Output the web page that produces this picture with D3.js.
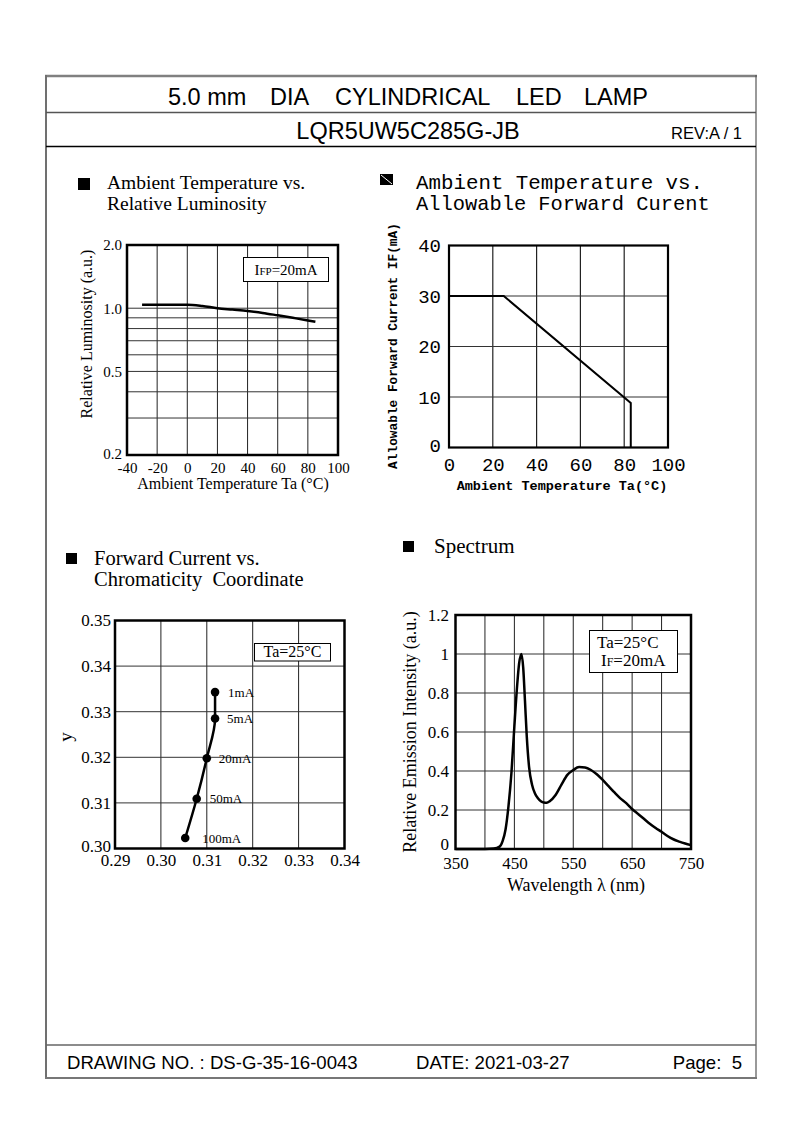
<!DOCTYPE html>
<html><head><meta charset="utf-8">
<script src="https://cdn.jsdelivr.net/npm/d3@7/dist/d3.min.js"></script>
<style>html,body{margin:0;padding:0;background:#fff;}svg{display:block;}</style>
</head><body>
<script>
// ---------- DATA ----------
const headerTitleWords = ["5.0 mm","DIA","CYLINDRICAL","LED","LAMP"];
const partNumber = "LQR5UW5C285G-JB";
const revision = "REV:A / 1";
const footerTexts = ["DRAWING NO. : DS-G-35-16-0043","DATE: 2021-03-27","Page:  5"];

// Chart 1: Ambient temperature vs relative luminosity
const lumTemp = [-30,-20,-10,0,10,20,30,40,50,60,70,80,85];
const lumValue = [1.04,1.04,1.04,1.04,1.025,1.0,0.985,0.97,0.95,0.925,0.9,0.875,0.862];
const lumXTicks = [-40,-20,0,20,40,60,80,100];
const lumYTicks = [0.2,0.5,1.0,2.0];
const lumYGrid = [0.3,0.4,0.5,0.6,0.7,0.8,0.9,1.0];

// Chart 2: Ambient temperature vs allowable forward current
const derTemp = [0,25,83,83];
const derCurrent = [30,30,8.8,0];
const derXTicks = [0,20,40,60,80,100];
const derYTicks = [0,10,20,30,40];

// Chart 3: forward current vs chromaticity coordinate
const chromLabels = ["1mA","5mA","20mA","50mA","100mA"];
const chromX = [0.3118,0.3118,0.3100,0.3078,0.3053];
const chromY = [0.3343,0.3285,0.3198,0.3109,0.3023];
const chromTicks = [0.29,0.30,0.31,0.32,0.33,0.34];
const chromYTicks = [0.30,0.31,0.32,0.33,0.34,0.35];

// Chart 4: spectrum
const specWl = [350,400,415,425,430,435,440,445,450,455,458,462,465,468,471,475,480,485,490,495,500,505,510,520,530,540,550,560,570,580,590,600,610,620,630,640,650,660,670,680,690,700,710,720,730,740,750];
const specI  = [0,0,0.002,0.012,0.04,0.1,0.22,0.39,0.63,0.85,0.95,1.0,0.93,0.76,0.58,0.42,0.33,0.285,0.26,0.245,0.238,0.237,0.245,0.277,0.33,0.38,0.405,0.42,0.418,0.405,0.383,0.354,0.322,0.29,0.26,0.235,0.205,0.18,0.155,0.13,0.108,0.088,0.067,0.05,0.038,0.028,0.02];
const specXTicks = [350,450,550,650,750];
const specXGrid = [400,450,500,550,600,650,700];
const specYTicks = [0,0.2,0.4,0.6,0.8,1.0,1.2];

// ---------- DRAW ----------
const W=794,H=1123;
const SERIF='"Liberation Serif","Times New Roman",serif';
const SANS='"Liberation Sans",Arial,sans-serif';
const MONO='"Liberation Mono","Courier New",monospace';
const svg=d3.select("body").append("svg").attr("width",W).attr("height",H);
svg.append("rect").attr("width",W).attr("height",H).attr("fill","#fff");

// page frame
const fr=svg.append("g");
fr.append("line").attr("x1",45).attr("x2",757).attr("y1",76).attr("y2",76).attr("stroke","#808080").attr("stroke-width",2.5);
fr.append("line").attr("x1",46).attr("x2",46).attr("y1",75).attr("y2",1079).attr("stroke","#707070").attr("stroke-width",2);
fr.append("line").attr("x1",756).attr("x2",756).attr("y1",75).attr("y2",1079).attr("stroke","#555").attr("stroke-width",1.2);
fr.append("line").attr("x1",46).attr("x2",756).attr("y1",112.5).attr("y2",112.5).attr("stroke","#555").attr("stroke-width",1.5);
fr.append("line").attr("x1",46).attr("x2",756).attr("y1",146.5).attr("y2",146.5).attr("stroke","#000").attr("stroke-width",1.5);
fr.append("line").attr("x1",46).attr("x2",756).attr("y1",1045).attr("y2",1045).attr("stroke","#666").attr("stroke-width",1.5);
fr.append("line").attr("x1",45).attr("x2",757).attr("y1",1078).attr("y2",1078).attr("stroke","#777").attr("stroke-width",1.8);

// header texts
const titleX=[168,270,335,516,584];
svg.append("g").selectAll("text").data(headerTitleWords).join("text")
  .attr("x",(d,i)=>titleX[i]).attr("y",105).attr("font-family",SANS).attr("font-size",23.5).text(d=>d);
svg.append("text").attr("x",408).attr("y",139).attr("text-anchor","middle").attr("font-family",SANS).attr("font-size",23.5).text(partNumber);
svg.append("text").attr("x",742).attr("y",139).attr("text-anchor","end").attr("font-family",SANS).attr("font-size",16.5).text(revision);
// footer
svg.append("text").attr("x",67).attr("y",1069).attr("font-family",SANS).attr("font-size",18.6).text(footerTexts[0]);
svg.append("text").attr("x",416).attr("y",1069).attr("font-family",SANS).attr("font-size",18.6).text(footerTexts[1]);
svg.append("text").attr("x",742).attr("y",1069).attr("text-anchor","end").attr("font-family",SANS).attr("font-size",18.6).attr("xml:space","preserve").style("white-space","pre").text(footerTexts[2]);

function bullet(x,y,s){svg.append("rect").attr("x",x).attr("y",y).attr("width",s).attr("height",s).attr("fill","#000");}
function styleAxis(g,font,size,weight){
  g.select(".domain").remove();
  g.selectAll(".tick line").remove();
  g.selectAll("text").attr("font-family",font).attr("font-size",size).attr("fill","#000").attr("font-weight",weight||"normal");
}

// ===== Chart 1 =====
{
  bullet(78,178,12);
  svg.append("text").attr("x",107).attr("y",189).attr("font-family",SERIF).attr("font-size",19.5).text("Ambient Temperature vs.");
  svg.append("text").attr("x",107).attr("y",210).attr("font-family",SERIF).attr("font-size",19.5).text("Relative Luminosity");
  const x=d3.scaleLinear().domain([-40,100]).range([127,338]);
  const y=d3.scaleLog().domain([0.2,2]).range([455,245]);
  const g=svg.append("g");
  g.selectAll(".vg").data(lumXTicks.slice(1,-1)).join("line").attr("x1",d=>x(d)).attr("x2",d=>x(d)).attr("y1",245).attr("y2",455).attr("stroke","#222").attr("stroke-width",1);
  g.selectAll(".hg").data(lumYGrid).join("line").attr("y1",d=>y(d)).attr("y2",d=>y(d)).attr("x1",127).attr("x2",338).attr("stroke","#333").attr("stroke-width",1);
  g.append("rect").attr("x",127).attr("y",245).attr("width",211).attr("height",210).attr("fill","none").attr("stroke","#000").attr("stroke-width",2.5);
  g.append("path").datum(lumTemp.map((t,i)=>[t,lumValue[i]])).attr("d",d3.line().x(d=>x(d[0])).y(d=>y(d[1])).curve(d3.curveMonotoneX)).attr("fill","none").attr("stroke","#000").attr("stroke-width",2.5);
  // box
  g.append("rect").attr("x",243.5).attr("y",257.5).attr("width",85).attr("height",24).attr("fill","#fff").attr("stroke","#000").attr("stroke-width",1);
  const t=g.append("text").attr("x",286).attr("y",275).attr("text-anchor","middle").attr("font-family",SERIF).attr("font-size",15);
  t.append("tspan").text("I"); t.append("tspan").attr("font-size",11).text("FP"); t.append("tspan").text("=20mA");
  const ay=svg.append("g").attr("transform","translate(124,0)").call(d3.axisLeft(y).tickValues(lumYTicks).tickFormat(d3.format(".1f")).tickSize(0).tickPadding(2));
  styleAxis(ay,SERIF,15);
  ay.selectAll(".tick").filter(d=>d===0.2).select("text").attr("dy","0.2em");
  const ax=svg.append("g").attr("transform","translate(0,460)").call(d3.axisBottom(x).tickValues(lumXTicks).tickSize(0).tickPadding(2).tickFormat(d=>d));
  styleAxis(ax,SERIF,15);
  svg.append("text").attr("x",233).attr("y",489).attr("text-anchor","middle").attr("font-family",SERIF).attr("font-size",16).text("Ambient Temperature Ta (°C)");
  svg.append("text").attr("transform","translate(92,334) rotate(-90)").attr("text-anchor","middle").attr("font-family",SERIF).attr("font-size",16).text("Relative Luminosity (a.u.)");
}

// ===== Chart 2 =====
{
  svg.append("rect").attr("x",380).attr("y",174).attr("width",13).attr("height",11).attr("fill","#000");
  svg.append("line").attr("x1",381).attr("y1",175).attr("x2",392).attr("y2",184).attr("stroke","#fff").attr("stroke-width",1);
  svg.append("text").attr("x",416).attr("y",189).attr("font-family",MONO).attr("font-size",20.8).text("Ambient Temperature vs.");
  svg.append("text").attr("x",416).attr("y",210).attr("font-family",MONO).attr("font-size",20.4).text("Allowable Forward Curent");
  const x=d3.scaleLinear().domain([0,100]).range([449,668]);
  const y=d3.scaleLinear().domain([0,40]).range([447.5,245.5]);
  const g=svg.append("g");
  g.selectAll(".vg").data(derXTicks.slice(1,-1)).join("line").attr("x1",d=>x(d)).attr("x2",d=>x(d)).attr("y1",245.5).attr("y2",447.5).attr("stroke","#222").attr("stroke-width",1.2);
  g.selectAll(".hg").data(derYTicks.slice(1,-1)).join("line").attr("y1",d=>y(d)).attr("y2",d=>y(d)).attr("x1",449).attr("x2",668).attr("stroke","#333").attr("stroke-width",1.2);
  g.append("rect").attr("x",449).attr("y",245.5).attr("width",219).attr("height",202).attr("fill","none").attr("stroke","#000").attr("stroke-width",2.2);
  g.append("path").datum(derTemp.map((t,i)=>[t,derCurrent[i]])).attr("d",d3.line().x(d=>x(d[0])).y(d=>y(d[1]))).attr("fill","none").attr("stroke","#000").attr("stroke-width",2);
  const ay=svg.append("g").attr("transform","translate(441,0)").call(d3.axisLeft(y).tickValues(derYTicks).tickSize(0).tickPadding(0));
  styleAxis(ay,MONO,19);
  ay.selectAll(".tick").filter(d=>d===0).select("text").attr("dy","0.2em");
  const ax=svg.append("g").attr("transform","translate(0,455)").call(d3.axisBottom(x).tickValues(derXTicks).tickSize(0).tickPadding(2));
  styleAxis(ax,MONO,19);
  svg.append("text").attr("x",562).attr("y",490).attr("text-anchor","middle").attr("font-family",MONO).attr("font-weight","bold").attr("font-size",13.5).text("Ambient Temperature Ta(°C)");
  svg.append("text").attr("transform","translate(397,346) rotate(-90)").attr("text-anchor","middle").attr("font-family",MONO).attr("font-weight","bold").attr("font-size",12.8).text("Allowable Forward Current IF(mA)");
}

// ===== Chart 3 =====
{
  bullet(66,553,11);
  svg.append("text").attr("x",94).attr("y",565).attr("font-family",SERIF).attr("font-size",20.5).text("Forward Current vs.");
  svg.append("text").attr("x",94).attr("y",586).attr("font-family",SERIF).attr("font-size",20.5).attr("xml:space","preserve").style("white-space","pre").text("Chromaticity  Coordinate");
  const x=d3.scaleLinear().domain([0.29,0.34]).range([115,344.5]);
  const y=d3.scaleLinear().domain([0.30,0.35]).range([848.5,620.5]);
  const g=svg.append("g");
  g.selectAll(".vg").data(chromTicks.slice(1,-1)).join("line").attr("x1",d=>x(d)).attr("x2",d=>x(d)).attr("y1",620.5).attr("y2",848.5).attr("stroke","#222").attr("stroke-width",1);
  g.selectAll(".hg").data(chromYTicks.slice(1,-1)).join("line").attr("y1",d=>y(d)).attr("y2",d=>y(d)).attr("x1",115).attr("x2",344.5).attr("stroke","#333").attr("stroke-width",1);
  g.append("rect").attr("x",115).attr("y",620.5).attr("width",229.5).attr("height",228).attr("fill","none").attr("stroke","#000").attr("stroke-width",2.5);
  const pts=chromX.map((v,i)=>[v,chromY[i]]);
  g.append("path").datum(pts).attr("d",d3.line().x(d=>x(d[0])).y(d=>y(d[1])).curve(d3.curveMonotoneY)).attr("fill","none").attr("stroke","#000").attr("stroke-width",2.5);
  g.selectAll(".pt").data(pts).join("circle").attr("cx",d=>x(d[0])).attr("cy",d=>y(d[1])).attr("r",4.3).attr("fill","#000");
  const lblDx=[13,12,12,13,17];
  g.selectAll(".lb").data(pts).join("text").attr("x",(d,i)=>x(d[0])+lblDx[i]).attr("y",(d,i)=>y(d[1])+4.5).attr("font-family",SERIF).attr("font-size",13).text((d,i)=>chromLabels[i]);
  g.append("rect").attr("x",254.5).attr("y",643.5).attr("width",76).attr("height",17.5).attr("fill","#fff").attr("stroke","#000").attr("stroke-width",1);
  g.append("text").attr("x",292.5).attr("y",657).attr("text-anchor","middle").attr("font-family",SERIF).attr("font-size",16).text("Ta=25°C");
  const ay=svg.append("g").attr("transform","translate(111,0)").call(d3.axisLeft(y).tickValues(chromYTicks).tickFormat(d3.format(".2f")).tickSize(0).tickPadding(0));
  styleAxis(ay,SERIF,17);
  ay.selectAll(".tick").filter(d=>d===0.30).select("text").attr("dy","0.2em");
  const ax=svg.append("g").attr("transform","translate(0,853)").call(d3.axisBottom(x).tickValues(chromTicks).tickFormat(d3.format(".2f")).tickSize(0).tickPadding(1));
  styleAxis(ax,SERIF,17);
  svg.append("text").attr("transform","translate(72,737) rotate(-90)").attr("text-anchor","middle").attr("font-family",SERIF).attr("font-size",19).text("y");
}

// ===== Chart 4 =====
{
  bullet(403,541,11);
  svg.append("text").attr("x",434).attr("y",553).attr("font-family",SERIF).attr("font-size",21).text("Spectrum");
  const x=d3.scaleLinear().domain([350,750]).range([455.5,691]);
  const y=d3.scaleLinear().domain([0,1.2]).range([849,615]);
  const g=svg.append("g");
  g.selectAll(".vg").data(specXGrid).join("line").attr("x1",d=>x(d)).attr("x2",d=>x(d)).attr("y1",615).attr("y2",849).attr("stroke","#222").attr("stroke-width",1);
  g.selectAll(".hg").data(specYTicks.slice(1,-1)).join("line").attr("y1",d=>y(d)).attr("y2",d=>y(d)).attr("x1",455.5).attr("x2",691).attr("stroke","#333").attr("stroke-width",1);
  g.append("rect").attr("x",455.5).attr("y",615).attr("width",235.5).attr("height",234).attr("fill","none").attr("stroke","#000").attr("stroke-width",2.5);
  g.append("path").datum(specWl.map((w,i)=>[w,specI[i]])).attr("d",d3.line().x(d=>x(d[0])).y(d=>y(d[1])).curve(d3.curveMonotoneX)).attr("fill","none").attr("stroke","#000").attr("stroke-width",2.5);
  g.append("rect").attr("x",589.5).attr("y",630.5).attr("width",88).attr("height",42).attr("fill","#fff").attr("stroke","#000").attr("stroke-width",1);
  g.append("text").attr("x",597).attr("y",648).attr("font-family",SERIF).attr("font-size",17).text("Ta=25°C");
  const t=g.append("text").attr("x",601).attr("y",666).attr("font-family",SERIF).attr("font-size",17);
  t.append("tspan").text("I"); t.append("tspan").attr("font-size",12).text("F"); t.append("tspan").text("=20mA");
  const ay=svg.append("g").attr("transform","translate(449,0)").call(d3.axisLeft(y).tickValues(specYTicks).tickFormat(d=>d===0?"0":(d===1?"1":d3.format(".1f")(d))).tickSize(0).tickPadding(0));
  styleAxis(ay,SERIF,17);
  ay.selectAll(".tick").filter(d=>d===0).select("text").attr("dy","0em");
  const ax=svg.append("g").attr("transform","translate(0,856)").call(d3.axisBottom(x).tickValues(specXTicks).tickSize(0).tickPadding(1));
  styleAxis(ax,SERIF,17);
  svg.append("text").attr("x",576).attr("y",891).attr("text-anchor","middle").attr("font-family",SERIF).attr("font-size",18).text("Wavelength λ (nm)");
  svg.append("text").attr("transform","translate(416,732) rotate(-90)").attr("text-anchor","middle").attr("font-family",SERIF).attr("font-size",18).text("Relative Emission Intensity (a.u.)");
}
</script>
</body></html>
